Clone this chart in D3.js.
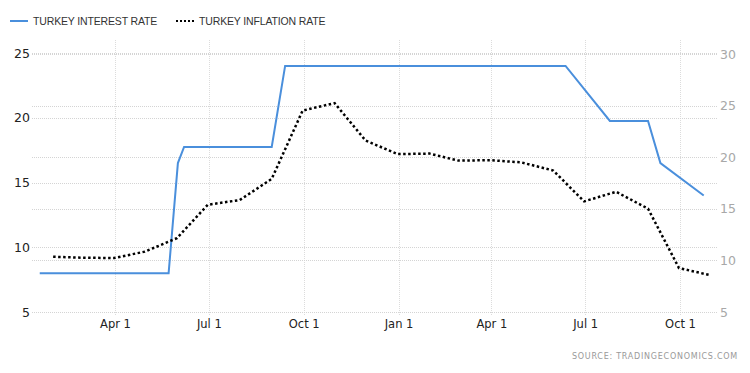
<!DOCTYPE html>
<html>
<head>
<meta charset="utf-8">
<script src="https://cdn.jsdelivr.net/npm/d3@7"></script>
<style>
  body { margin: 0; background: #fff; }
  svg { display: block; }
</style>
</head>
<body>
<div id="chart"></div>
<script>
// data
const rateDates = ["2018-01-18", "2018-03-07", "2018-04-25", "2018-05-23", "2018-06-01", "2018-06-07",
  "2018-07-24", "2018-08-31", "2018-09-13", "2018-10-25", "2018-12-13", "2019-01-16", "2019-03-06",
  "2019-04-25", "2019-06-12", "2019-07-25", "2019-08-31", "2019-09-12", "2019-10-24"];
const rateValues = [8, 8, 8, 8, 16.5, 17.75, 17.75, 17.75, 24, 24, 24, 24, 24, 24, 24, 19.75, 19.75, 16.5, 14];

const inflDates = ["2018-01-31", "2018-02-28", "2018-03-31", "2018-04-30", "2018-05-31", "2018-06-30",
  "2018-07-31", "2018-08-31", "2018-09-30", "2018-10-31", "2018-11-30", "2018-12-31", "2019-01-31",
  "2019-02-28", "2019-03-31", "2019-04-30", "2019-05-31", "2019-06-30", "2019-07-31", "2019-08-31",
  "2019-09-30", "2019-10-31"];
const inflValues = [10.35, 10.26, 10.23, 10.85, 12.15, 15.39, 15.85, 17.9, 24.52, 25.24, 21.62, 20.3,
  20.35, 19.67, 19.71, 19.5, 18.71, 15.72, 16.65, 15.01, 9.26, 8.55];

const xTicks = ["2018-04-01", "2018-07-01", "2018-10-01", "2019-01-01", "2019-04-01", "2019-07-01", "2019-10-01"];
const leftTicks = [5, 10, 15, 20, 25];
const rightTicks = [5, 10, 15, 20, 25, 30];
const seriesNames = ["TURKEY INTEREST RATE", "TURKEY INFLATION RATE"];

const dims = { width: 750, height: 373 };
const plot = { left: 32, right: 717, top: 40, bottom: 312 };
const blue = "#4a8fdc";

const parse = d3.timeParse("%Y-%m-%d");

const svg = d3.select("#chart")
  .append("svg")
  .attr("width", dims.width)
  .attr("height", dims.height);

// scales
const xScale = d3.scaleTime()
  .domain([parse("2018-04-01"), parse("2019-10-01")])
  .range([115, 680]);
const yLeft = d3.scaleLinear().domain([5, 25]).range([312, 53]);
const yRight = d3.scaleLinear().domain([5, 30]).range([312, 54]);

// grid
const grid = svg.append("g");
grid.selectAll(".vgrid")
  .data(xTicks.map(parse))
  .enter().append("line")
  .attr("x1", d => Math.round(xScale(d)) + 0.5)
  .attr("x2", d => Math.round(xScale(d)) + 0.5)
  .attr("y1", plot.top)
  .attr("y2", plot.bottom + 4)
  .attr("stroke", "#dcdcdc")
  .attr("stroke-dasharray", "1,1");

const hLines = leftTicks.map(d => yLeft(d)).concat(rightTicks.filter(d => d > 5).map(d => yRight(d)));
grid.selectAll(".hgrid")
  .data(hLines)
  .enter().append("line")
  .attr("x1", plot.left)
  .attr("x2", plot.right)
  .attr("y1", d => Math.round(d) + 0.5)
  .attr("y2", d => Math.round(d) + 0.5)
  .attr("stroke", "#d4d4d4")
  .attr("stroke-dasharray", "1,1");

// axes
const leftAxis = svg.append("g")
  .attr("transform", `translate(${plot.left},0)`)
  .call(d3.axisLeft(yLeft).tickValues(leftTicks).tickSize(0).tickPadding(2));
leftAxis.select(".domain").remove();
leftAxis.selectAll("text")
  .attr("fill", "#222")
  .style("font-family", "DejaVu Sans")
  .style("font-size", "12.5px");

const rightAxis = svg.append("g")
  .attr("transform", `translate(${plot.right},0)`)
  .call(d3.axisRight(yRight).tickValues(rightTicks).tickSize(0).tickPadding(3));
rightAxis.select(".domain").remove();
rightAxis.selectAll("text")
  .attr("fill", "#a8a8a8")
  .style("font-family", "DejaVu Sans")
  .style("font-size", "12.5px");

const bottomAxis = svg.append("g")
  .attr("transform", `translate(0,${plot.bottom})`)
  .call(d3.axisBottom(xScale)
    .tickValues(xTicks.map(parse))
    .tickFormat(d3.timeFormat("%b %-d"))
    .tickSize(0)
    .tickPadding(8));
bottomAxis.select(".domain").remove();
bottomAxis.selectAll("text")
  .attr("fill", "#222")
  .style("font-family", "DejaVu Sans")
  .style("font-size", "11.5px");

// lines
const rateData = rateDates.map((d, i) => ({ date: parse(d), value: rateValues[i] }));
const inflData = inflDates.map((d, i) => ({ date: parse(d), value: inflValues[i] }));

const rateLine = d3.line().x(d => xScale(d.date)).y(d => yLeft(d.value));
const inflLine = d3.line().x(d => xScale(d.date)).y(d => yRight(d.value));

svg.append("path")
  .datum(rateData)
  .attr("d", rateLine)
  .attr("fill", "none")
  .attr("stroke", blue)
  .attr("stroke-width", 2);

svg.append("path")
  .datum(inflData)
  .attr("d", inflLine)
  .attr("fill", "none")
  .attr("stroke", "#000")
  .attr("stroke-width", 2.5)
  .attr("stroke-dasharray", "2.5,2.5");

// legend
const legend = svg.append("g").attr("transform", "translate(0,21)");
const legendItems = [
  { x: 10, name: seriesNames[0], stroke: blue, dash: null, w: 2 },
  { x: 176, name: seriesNames[1], stroke: "#000", dash: "2,2", w: 2 }
];
legendItems.forEach(item => {
  legend.append("line")
    .attr("x1", item.x).attr("x2", item.x + 18)
    .attr("y1", 0).attr("y2", 0)
    .attr("stroke", item.stroke)
    .attr("stroke-width", item.w)
    .attr("stroke-dasharray", item.dash);
  legend.append("text")
    .attr("x", item.x + 23)
    .attr("y", 4)
    .attr("fill", "#333")
    .style("font-family", "Liberation Sans, Arial, sans-serif")
    .style("font-size", "10.5px")
    .style("letter-spacing", "-0.15px")
    .text(item.name);
});

// source
svg.append("text")
  .attr("x", 738)
  .attr("y", 359)
  .attr("text-anchor", "end")
  .attr("fill", "#999")
  .style("font-family", "DejaVu Sans")
  .style("font-size", "8px")
  .style("letter-spacing", "0.75px")
  .text("SOURCE:  TRADINGECONOMICS.COM");
</script>
</body>
</html>
